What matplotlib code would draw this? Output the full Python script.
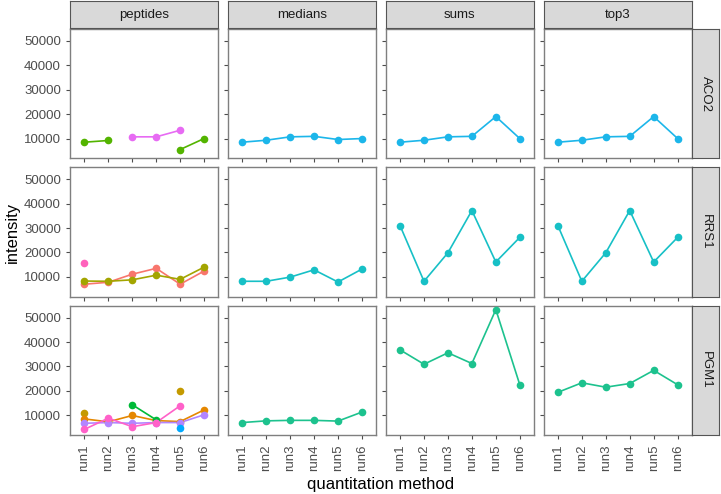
import numpy as np
import matplotlib
matplotlib.use("Agg")
import matplotlib.pyplot as plt

plt.rcParams['font.family'] = ['Liberation Sans', 'DejaVu Sans']

nan = np.nan

runs = ["run1", "run2", "run3", "run4", "run5", "run6"]
methods = ["peptides", "medians", "sums", "top3"]
proteins = ["ACO2", "RRS1", "PGM1"]
yticks = [10000, 20000, 30000, 40000, 50000]

# protein level summaries (medians, sums, top3)
aco2_medians = [8500, 9300, 10700, 10900, 9600, 10000]
aco2_sums = [8500, 9300, 10700, 10900, 19000, 10000]
aco2_top3 = [8500, 9300, 10700, 10900, 19000, 10000]

rrs1_medians = [8200, 8200, 9900, 12900, 7900, 13200]
rrs1_sums = [31000, 8200, 19900, 37200, 16100, 26200]
rrs1_top3 = [31000, 8200, 19900, 37200, 16100, 26200]

pgm1_medians = [7000, 7700, 7900, 7900, 7600, 11300]
pgm1_sums = [36800, 30900, 35600, 31200, 53300, 22500]
pgm1_top3 = [19400, 23300, 21500, 23000, 28400, 22500]

# peptide level intensities (nan = not observed)
aco2_pep1 = [8500, 9200, nan, nan, 5500, 10000]
aco2_pep2 = [nan, nan, 10700, 10700, 13400, nan]

rrs1_pep1 = [7000, 7800, 11100, 13500, 7000, 12400]
rrs1_pep2 = [8300, 8200, 8800, 10700, 9000, 14000]
rrs1_pep3 = [15800, nan, nan, nan, nan, nan]

pgm1_pep1 = [10900, nan, nan, nan, 20100, nan]
pgm1_pep2 = [8500, 7300, 9900, 7800, 7400, 12200]
pgm1_pep3 = [nan, nan, 14300, 8100, nan, nan]
pgm1_pep4 = [4200, 8800, 5300, 7000, 13900, nan]
pgm1_pep5 = [6700, 7000, 6700, 7000, 7000, 10200]
pgm1_pep6 = [nan, nan, nan, nan, 4900, nan]

peptides = {
    "ACO2": [(aco2_pep1, "#53B400"), (aco2_pep2, "#E76BF3")],
    "RRS1": [(rrs1_pep1, "#F8766D"), (rrs1_pep2, "#A3A500"), (rrs1_pep3, "#FF62BC")],
    "PGM1": [(pgm1_pep1, "#C49A00"), (pgm1_pep2, "#E58700"), (pgm1_pep3, "#00BA38"),
             (pgm1_pep5, "#B385FF"), (pgm1_pep4, "#FF61C9"), (pgm1_pep6, "#00A9FF")],
}
summaries = {
    "ACO2": ([aco2_medians, aco2_sums, aco2_top3], "#1CB6EA"),
    "RRS1": ([rrs1_medians, rrs1_sums, rrs1_top3], "#17C0C6"),
    "PGM1": ([pgm1_medians, pgm1_sums, pgm1_top3], "#1DC28E"),
}

W, H = 721, 494
fig, axes = plt.subplots(3, 4, figsize=(W / 100, H / 100), dpi=100,
                         sharex=True, sharey=True)
fig.subplots_adjust(left=70 / W, right=692 / W, top=1 - 29 / H, bottom=1 - 435 / H,
                    wspace=0.063, hspace=0.07)

x = np.arange(1, 7)
border = "#7F7F7F"
tick_col = "#4D4D4D"

for i, prot in enumerate(proteins):
    for j, meth in enumerate(methods):
        ax = axes[i, j]
        if j == 0:
            series = peptides[prot]
        else:
            vals, col = summaries[prot]
            series = [(vals[j - 1], col)]
        for ys, col in series:
            ys = np.array(ys, dtype=float)
            ax.plot(x, ys, color=col, lw=1.2, zorder=2)
            ax.plot(x, ys, "o", color=col, ms=5.5, mew=0, zorder=3)
        ax.set_xlim(0.4, 6.6)
        ax.set_ylim(1900, 54900)
        ax.set_yticks(yticks)
        ax.set_xticks(x)
        ax.set_xticklabels(runs, rotation=90)
        for s in ax.spines.values():
            s.set_color(border)
            s.set_linewidth(1.0)
        ax.tick_params(colors=tick_col, labelsize=9.5, length=3, width=0.8,
                       labelcolor=tick_col)

# column strips
for j, meth in enumerate(methods):
    pos = axes[0, j].get_position()
    sax = fig.add_axes([pos.x0, 1 - 28.5 / H, pos.width, 27 / H])
    sax.set_facecolor("#D9D9D9")
    sax.set_xticks([])
    sax.set_yticks([])
    for s in sax.spines.values():
        s.set_color("#555555")
        s.set_linewidth(0.8)
    sax.text(0.5, 0.5, meth, ha="center", va="center", fontsize=9.5, color="#1A1A1A")

# row strips
for i, prot in enumerate(proteins):
    pos = axes[i, 3].get_position()
    sax = fig.add_axes([pos.x1, pos.y0, 27 / W, pos.height])
    sax.set_facecolor("#D9D9D9")
    sax.set_xticks([])
    sax.set_yticks([])
    for s in sax.spines.values():
        s.set_color("#555555")
        s.set_linewidth(0.8)
    sax.text(0.5, 0.5, prot, ha="center", va="center", rotation=270,
             fontsize=9.5, color="#1A1A1A")

fig.text(12 / W, 0.5 * ((1 - 29 / H) + (1 - 435 / H)), "intensity", rotation=90,
         ha="center", va="center", fontsize=12)
fig.text(0.5 * (70 + 692) / W, 1 - 484 / H, "quantitation method",
         ha="center", va="center", fontsize=12)

fig.savefig("out.png", dpi=100)
